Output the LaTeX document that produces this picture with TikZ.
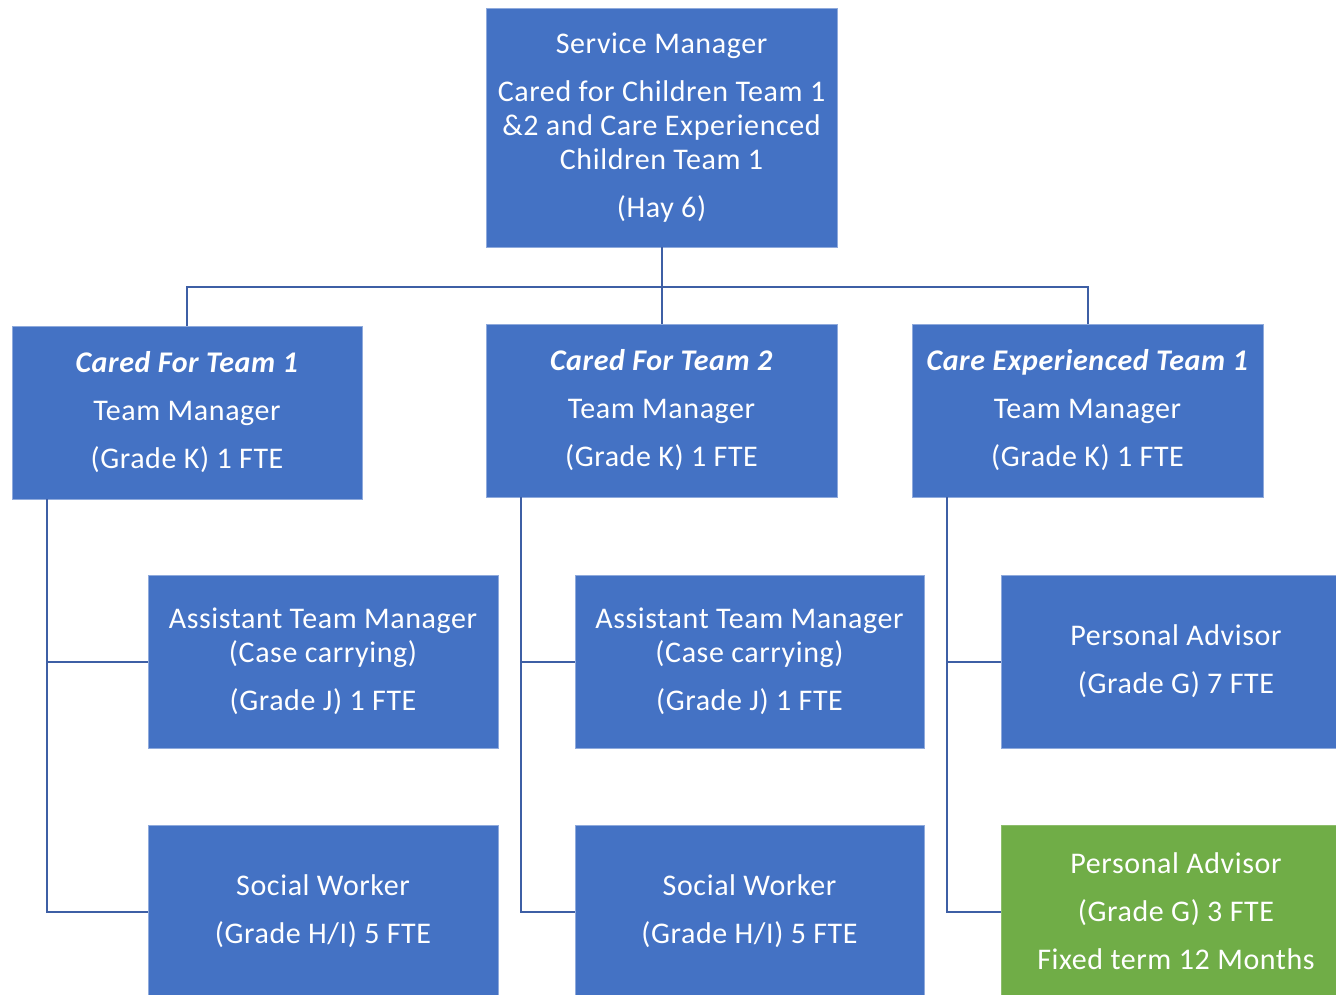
\documentclass[tikz,border=0pt]{standalone}
\usepackage{fontspec}
\setmainfont{Carlito}[LetterSpace=2]
\definecolor{boxblue}{RGB}{68,114,196}
\definecolor{boxgreen}{RGB}{112,173,71}
\definecolor{boxedge}{RGB}{143,170,220}
\definecolor{linkblue}{RGB}{62,95,165}
\begin{document}
\begin{tikzpicture}[x=1pt,y=-1pt,
  role/.style={fill=boxblue, draw=boxedge, line width=0.8pt, text=white,
    inner sep=0pt, minimum width=350pt, minimum height=173pt, align=center,
    font=\fontsize{30}{34}\selectfont},
  temp/.style={role, fill=boxgreen, draw=boxgreen!80!white},
  link/.style={draw=linkblue, line width=2pt}]
\useasboundingbox (0,0) rectangle (1336,995);
\clip (0,0) rectangle (1336,995);

% service manager
\node[role, minimum width=351pt, minimum height=239pt] (sm) at (661.5,127.5)
  {Service Manager\\[14pt]Cared for Children Team 1\\\&2 and Care Experienced\\Children Team 1\\[14pt](Hay 6)};

% team managers
\node[role] (cf1) at (187,412.5)
  {\textbf{\textit{Cared For Team 1}}\\[14pt]Team Manager\\[14pt](Grade K) 1 FTE};
\node[role, minimum width=351pt] (cf2) at (661.5,410.5)
  {\textbf{\textit{Cared For Team 2}}\\[14pt]Team Manager\\[14pt](Grade K) 1 FTE};
\node[role, minimum width=351pt] (ce1) at (1087.5,410.5)
  {\textbf{\textit{Care Experienced Team 1}}\\[14pt]Team Manager\\[14pt](Grade K) 1 FTE};

% staff under each team
\node[role] (atm1) at (323,661.5)
  {Assistant Team Manager\\(Case carrying)\\[14pt](Grade J) 1 FTE};
\node[role] (sw1) at (323,911.5)
  {Social Worker\\[14pt](Grade H/I) 5 FTE};
\node[role, minimum width=349pt] (atm2) at (749.5,661.5)
  {Assistant Team Manager\\(Case carrying)\\[14pt](Grade J) 1 FTE};
\node[role, minimum width=349pt] (sw2) at (749.5,911.5)
  {Social Worker\\[14pt](Grade H/I) 5 FTE};
\node[role] (pa1) at (1176,661.5)
  {Personal Advisor\\[14pt](Grade G) 7 FTE};
\node[temp] (pa2) at (1176,911.5)
  {Personal Advisor\\[14pt](Grade G) 3 FTE\\[14pt]Fixed term 12 Months};

% reporting lines
\coordinate (bus) at (661.5,287);
\draw[link] (sm.south) -- (cf2.north);
\draw[link] (cf1.north) |- (bus) -| (ce1.north);

\draw[link] ([xshift=-140pt]cf1.south) |- (atm1.west);
\draw[link] ([xshift=-140pt]cf1.south) |- (sw1.west);
\draw[link] ([xshift=-140.5pt]cf2.south) |- (atm2.west);
\draw[link] ([xshift=-140.5pt]cf2.south) |- (sw2.west);
\draw[link] ([xshift=-140.5pt]ce1.south) |- (pa1.west);
\draw[link] ([xshift=-140.5pt]ce1.south) |- (pa2.west);
\end{tikzpicture}
\end{document}
